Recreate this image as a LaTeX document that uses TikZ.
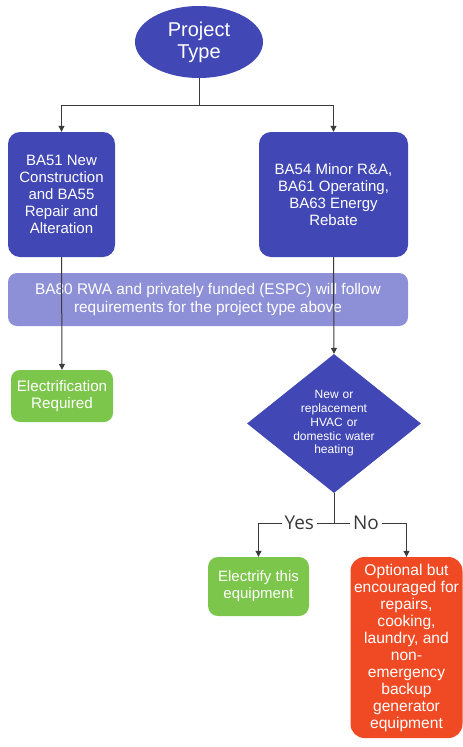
\documentclass[tikz,border=0pt]{standalone}
\usepackage{fontspec}
\setmainfont{Liberation Sans}
\newfontfamily\branchfont{Open Sans}
\usepackage{xcolor}
\usetikzlibrary{positioning, arrows.meta, shapes.geometric}

\definecolor{darkblue}{HTML}{4147B4}
\definecolor{lightblue}{HTML}{8D90D6}
\definecolor{leafgreen}{HTML}{7DC64C}
\definecolor{alertred}{HTML}{F04A24}
\definecolor{linegray}{HTML}{3A3A3A}

\begin{document}
\begin{tikzpicture}[x=1pt, y=-1pt, >={Triangle[length=6pt,width=6pt]},
	box/.style={rectangle, rounded corners=12pt, text=white, align=center, inner sep=2pt, font=\fontsize{15}{17}\selectfont},
	line/.style={draw=linegray, line width=1pt}]
			
			\useasboundingbox (0,0) rectangle (463,747);
			
			% Draw shapes
			\node (type) [ellipse, fill=darkblue, text=white, align=center, inner sep=0pt, minimum width=128pt, minimum height=72pt, font=\fontsize{20}{22}\selectfont] at (199,42) {Project\\Type};
			\node (ba51) [box, fill=darkblue, minimum width=107pt, minimum height=125pt] at (61.5,194.5) {BA51 New\\Construction\\and BA55\\Repair and\\Alteration};
			\node (ba54) [box, fill=darkblue, minimum width=149pt, minimum height=125pt] at (333.5,194.5) {BA54 Minor R\&A,\\BA61 Operating,\\BA63 Energy\\Rebate};
			\node (ba80) [box, fill=lightblue, rounded corners=9pt, minimum width=400pt, minimum height=53pt, font=\fontsize{15.4}{18}\selectfont] at (208,299.5) {BA80 RWA and privately funded (ESPC) will follow\\requirements for the project type above};
			\node (elec) [box, fill=leafgreen, rounded corners=9pt, minimum width=102pt, minimum height=52pt, font=\fontsize{15.2}{17}\selectfont] at (62,396) {Electrification\\Required};
			\node (hvac) [diamond, shape aspect=1.25, fill=darkblue, text=white, align=center, inner sep=0pt, text width=88pt, minimum width=174pt, minimum height=139pt, font=\fontsize{12}{13.7}\selectfont] at (334,423.5) {New or\\replacement\\HVAC or\\domestic water\\heating};
			\node (yes) [box, fill=leafgreen, rounded corners=10pt, minimum width=101pt, minimum height=59pt] at (258.5,586.5) {Electrify this\\equipment};
			\node (no) [box, fill=alertred, rounded corners=14pt, minimum width=112pt, minimum height=181pt, font=\fontsize{15.6}{17}\selectfont] at (406.5,647.5) {Optional but\\encouraged for\\repairs,\\cooking,\\laundry, and\\non-\\emergency\\backup\\generator\\equipment};
			
			% Draw arrows
			\coordinate (split) at (199,105);
			\coordinate (fork) at (334,523);
			\draw[line] (type.south) -- (split);
			\draw[line, ->] (split) -| (ba51.north);
			\draw[line, ->] (split) -| (ba54.north);
			\draw[line, ->] (ba51.south) -- (elec.north);
			\draw[line, ->] (ba54.south) -- (hvac.north);
			\draw[line] (hvac.south) -- (fork);
			\draw[line, ->] (fork) -| node[pos=0.23, fill=white, inner sep=3pt, font=\branchfont\fontsize{19}{22}\selectfont, text=linegray] {Yes} (yes.north);
			\draw[line, ->] (fork) -| node[pos=0.22, fill=white, inner sep=3pt, font=\branchfont\fontsize{19}{22}\selectfont, text=linegray] {No} (no.north);
			
		\end{tikzpicture}
\end{document}
